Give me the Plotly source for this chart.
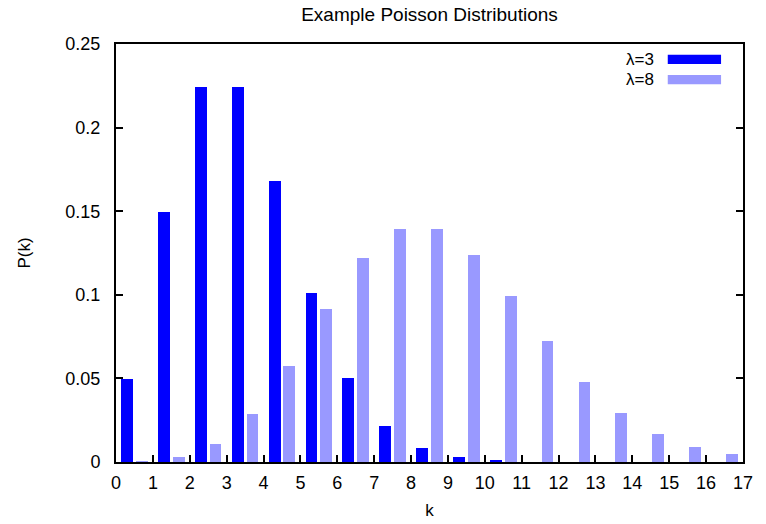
import plotly.graph_objects as go

k_values = list(range(17))
p_lambda3 = [0.0498, 0.1494, 0.2240, 0.2240, 0.1680, 0.1008, 0.0504, 0.0216, 0.0081,
             0.0027, 0.0008, 0.0, 0.0, 0.0, 0.0, 0.0, 0.0]
p_lambda8 = [0.0003, 0.0027, 0.0107, 0.0286, 0.0573, 0.0916, 0.1221, 0.1396, 0.1396,
             0.1241, 0.0993, 0.0722, 0.0481, 0.0296, 0.0169, 0.0090, 0.0045]
series_names = ["λ=3", "λ=8"]
series_colors = ["#0000ff", "#9999ff"]
y_tick_vals = [0, 0.05, 0.1, 0.15, 0.2, 0.25]
y_tick_text = ["0", "0.05", "0.1", "0.15", "0.2", "0.25"]
x_tick_vals = list(range(18))

FONT = "Liberation Sans, Arial, Helvetica, sans-serif"
FIG_W, FIG_H = 766, 524

fig = go.Figure()
fig.add_trace(go.Bar(x=k_values, y=p_lambda3, name=series_names[0],
                     marker=dict(color=series_colors[0], line=dict(width=0)),
                     width=0.32, offset=0.14, showlegend=False))
fig.add_trace(go.Bar(x=k_values, y=p_lambda8, name=series_names[1],
                     marker=dict(color=series_colors[1], line=dict(width=0)),
                     width=0.32, offset=0.54, showlegend=False))

# manual legend (text on left, swatch on right, gnuplot-style)
legend_rows = [(0.974, 0.952, 0.962), (0.926, 0.904, 0.915)]
for name, color, (y1, y0, ym) in zip(series_names, series_colors, legend_rows):
    fig.add_shape(type="rect", xref="paper", yref="paper",
                  x0=0.880, x1=0.965, y0=y0, y1=y1,
                  fillcolor=color, line=dict(width=0))
    fig.add_annotation(xref="paper", yref="paper", x=0.862, y=ym,
                       text=name, showarrow=False, xanchor="right", yanchor="middle",
                       font=dict(size=17, color="#000000", family=FONT))

fig.update_layout(
    width=FIG_W, height=FIG_H,
    margin=dict(l=116, r=23, t=44, b=62, autoexpand=False),
    paper_bgcolor="white", plot_bgcolor="white",
    font=dict(family=FONT, size=18, color="#000000"),
    title=dict(text="Example Poisson Distributions", x=0.5, xanchor="center", xref="paper",
               y=1 - 14.5 / FIG_H, yanchor="middle", font=dict(size=19, family=FONT)),
    barmode="overlay",
    bargap=0,
    hovermode=False,
)
fig.update_xaxes(
    range=[0, 17], tickvals=x_tick_vals, ticks="inside", ticklen=7, tickwidth=2,
    tickcolor="black", showline=True, linecolor="black", linewidth=2, mirror=True,
    showgrid=False, zeroline=False, ticklabelstandoff=3, automargin=False,
    title=dict(text="k", font=dict(size=17), standoff=13),
)
fig.update_yaxes(
    range=[0, 0.25], tickvals=y_tick_vals, ticktext=y_tick_text, ticks="inside",
    ticklen=7, tickwidth=2, tickcolor="black", showline=True, linecolor="black",
    linewidth=2, mirror="ticks", showgrid=False, zeroline=False, ticklabelstandoff=10,
    automargin=False,
    title=dict(text="P(k)", font=dict(size=17), standoff=30),
)

fig.write_html("out.html",
               config={"displayModeBar": False},
               post_script="document.body.style.margin='0';document.body.style.overflow='hidden';")
